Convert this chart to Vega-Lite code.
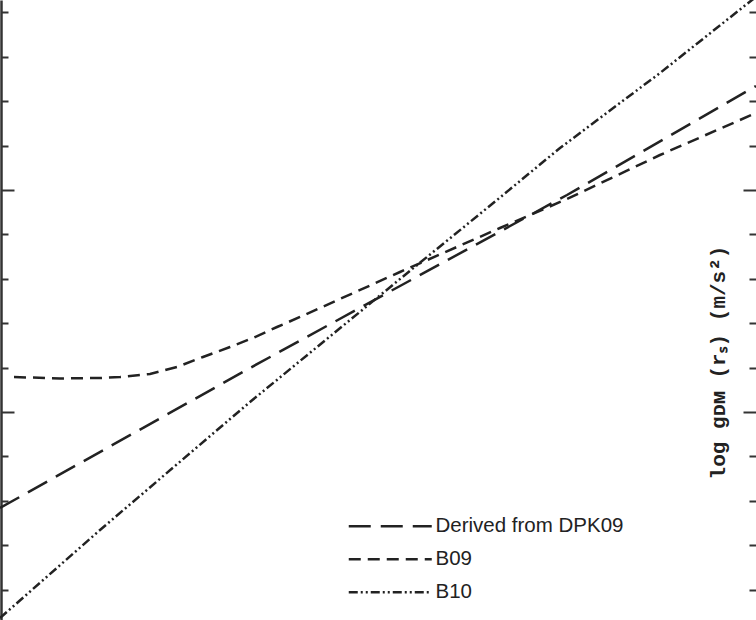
{
  "$schema": "https://vega.github.io/schema/vega-lite/v6.json",
  "description": "log g_DM(r_s) comparison of three relations, cropped plot with inward ticks only.",
  "width": 756,
  "height": 620,
  "padding": 0,
  "autosize": {"type": "none"},
  "background": "white",
  "config": {"view": {"stroke": null}},
  "data": {
    "values": [
      {"series": "Derived from DPK09", "x": 0.00, "y": -10.2162},
      {"series": "Derived from DPK09", "x": 2.50, "y": -9.9009},
      {"series": "Derived from DPK09", "x": 4.00, "y": -9.7162},
      {"series": "Derived from DPK09", "x": 5.67, "y": -9.5113},
      {"series": "Derived from DPK09", "x": 7.56, "y": -9.2658},
      {"series": "B09", "x": 0.14, "y": -9.9212},
      {"series": "B09", "x": 0.60, "y": -9.9245},
      {"series": "B09", "x": 1.00, "y": -9.9234},
      {"series": "B09", "x": 1.20, "y": -9.9212},
      {"series": "B09", "x": 1.50, "y": -9.9144},
      {"series": "B09", "x": 1.77, "y": -9.8986},
      {"series": "B09", "x": 2.03, "y": -9.8761},
      {"series": "B09", "x": 2.30, "y": -9.8536},
      {"series": "B09", "x": 2.53, "y": -9.8333},
      {"series": "B09", "x": 2.77, "y": -9.8086},
      {"series": "B09", "x": 3.00, "y": -9.7860},
      {"series": "B09", "x": 4.00, "y": -9.6847},
      {"series": "B09", "x": 5.00, "y": -9.5856},
      {"series": "B09", "x": 5.67, "y": -9.5203},
      {"series": "B09", "x": 6.60, "y": -9.4212},
      {"series": "B09", "x": 7.56, "y": -9.3266},
      {"series": "B10", "x": 0.00, "y": -10.4640},
      {"series": "B10", "x": 1.00, "y": -10.2658},
      {"series": "B10", "x": 2.50, "y": -9.9775},
      {"series": "B10", "x": 4.00, "y": -9.7005},
      {"series": "B10", "x": 4.97, "y": -9.5225},
      {"series": "B10", "x": 5.60, "y": -9.4054},
      {"series": "B10", "x": 6.60, "y": -9.2365},
      {"series": "B10", "x": 7.52, "y": -9.0721},
      {"series": "B10", "x": 7.56, "y": -9.0653}
    ]
  },
  "encoding": {
    "x": {"field": "x", "type": "quantitative", "scale": {"domain": [0, 7.56], "nice": false, "zero": false}, "axis": null},
    "strokeDash": {
      "field": "series", "type": "nominal",
      "scale": {
        "domain": ["Derived from DPK09", "B09", "B10"],
        "range": [[22, 10], [12, 7], [9, 3, 2, 3, 2, 3]]
      },
      "legend": {
        "orient": "none", "legendX": 380, "legendY": 516, "title": null, "padding": 0,
        "symbolType": "M-8.3,0H8.3", "symbolSize": 100, "symbolStrokeWidth": 2.5,
        "symbolStrokeColor": "#222", "symbolFillColor": "transparent",
        "labelFont": "Liberation Sans", "labelFontSize": 20.5, "labelColor": "#222",
        "labelOffset": 35, "labelLimit": 0, "rowPadding": 12
      }
    }
  },
  "layer": [
    {
      "transform": [{"filter": "datum.series !== 'B09'"}],
      "mark": {"type": "line", "clip": true, "color": "#222", "strokeWidth": 2.5, "strokeCap": "butt"},
      "encoding": {
        "y": {
          "field": "y", "type": "quantitative",
          "scale": {"domain": [-10.4685, -9.0721], "nice": false, "zero": false},
          "axis": {
            "orient": "left", "title": null, "labels": false, "grid": false, "offset": -1,
            "values": [-10.4, -10.3, -10.2, -10.1, -10, -9.9, -9.8, -9.7, -9.6, -9.5, -9.4, -9.3, -9.2, -9.1],
            "domain": true, "domainColor": "#333", "domainWidth": 2.5,
            "tickColor": "#333", "tickWidth": 2,
            "tickSize": {"condition": {"test": "abs(datum.value + 10) < 0.001 || abs(datum.value + 9.5) < 0.001", "value": -13}, "value": -7}
          }
        }
      }
    },
    {
      "transform": [{"filter": "datum.series === 'B09'"}],
      "mark": {"type": "line", "clip": true, "color": "#222", "strokeWidth": 2.5, "strokeCap": "butt"},
      "encoding": {
        "y": {
          "field": "y", "type": "quantitative",
          "axis": {
            "orient": "right", "labels": false, "grid": false, "domain": false,
            "values": [-10.4, -10.3, -10.2, -10.1, -10, -9.9, -9.8, -9.7, -9.6, -9.5, -9.4, -9.3, -9.2, -9.1],
            "tickColor": "#333", "tickWidth": 2,
            "tickSize": {"condition": {"test": "abs(datum.value + 10) < 0.001 || abs(datum.value + 9.5) < 0.001", "value": -13}, "value": -7},
            "title": "log gᴅᴍ (rₛ) (m/s²)",
            "titleAngle": 270, "titleFont": "Liberation Mono", "titleFontWeight": "bold",
            "titleFontSize": 21, "titleColor": "#222",
            "titleX": -32, "titleY": 362, "titleAlign": "center", "titleBaseline": "alphabetic"
          }
        }
      }
    }
  ],
  "resolve": {"axis": {"y": "independent"}}
}
